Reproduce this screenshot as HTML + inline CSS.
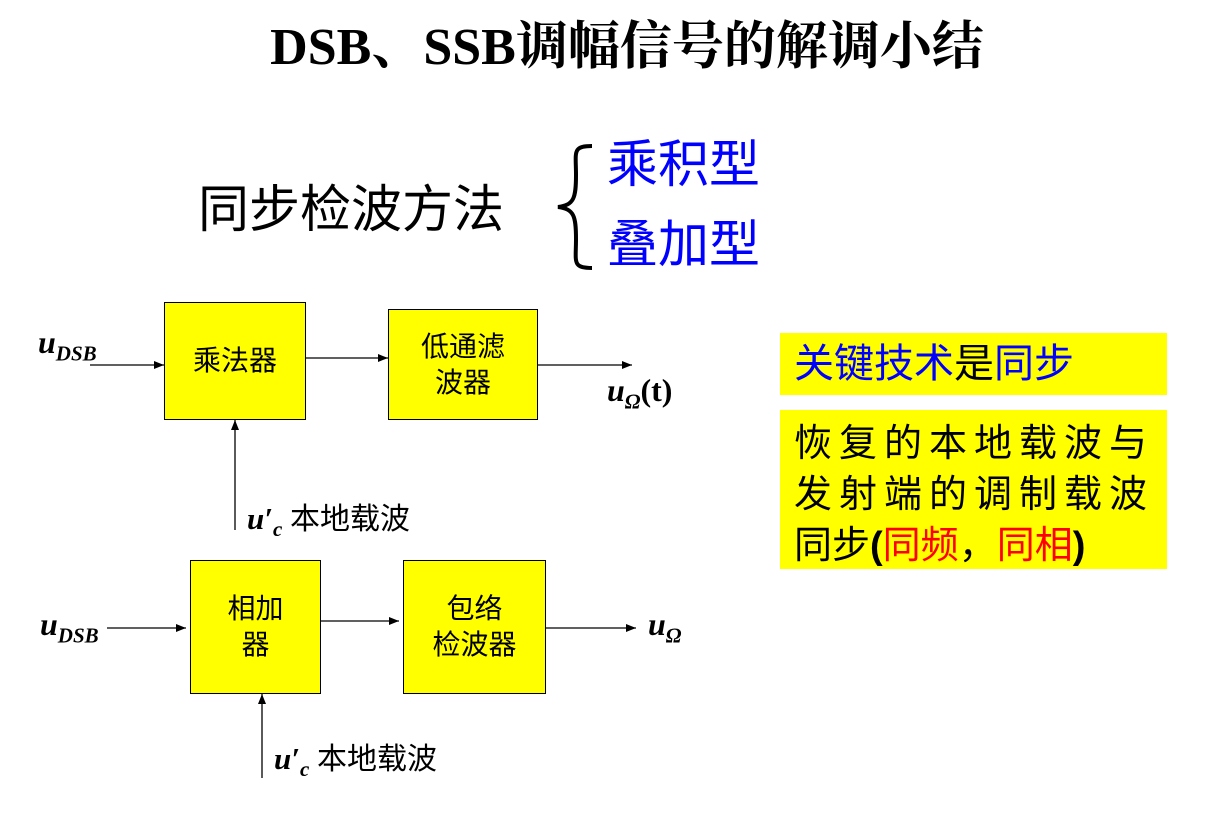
<!DOCTYPE html>
<html><head><meta charset="utf-8"><style>
body{margin:0;width:1224px;height:828px;background:#fff;position:relative;overflow:hidden;font-family:"Liberation Serif","Noto Serif CJK SC","Noto Sans CJK SC",serif;}
.t{position:absolute;white-space:nowrap;}
.box{position:absolute;background:#ff0;border:1px solid #000;box-sizing:border-box;display:flex;align-items:center;justify-content:center;text-align:center;font-family:"Liberation Sans","Noto Sans CJK SC",sans-serif;font-size:28px;line-height:36px;}
.panel{position:absolute;background:#ff0;font-family:"Liberation Sans","Noto Sans CJK SC",sans-serif;}
i{font-weight:bold;}
</style></head><body>
<div class="t" style="left:0;width:1254px;text-align:center;top:4px;font-size:52px;font-weight:bold;">DSB、SSB调幅信号的解调小结</div>
<div class="t" style="left:198px;top:168px;font-size:51px;font-family:'Liberation Sans','Noto Sans CJK SC',sans-serif;">同步检波方法</div>
<svg style="position:absolute;left:0;top:0" width="1224" height="828">
<defs><marker id="a" markerWidth="10" markerHeight="8" refX="10" refY="4" orient="auto" markerUnits="userSpaceOnUse"><path d="M0,0L10,4L0,8z" fill="#000"/></marker></defs>
<path d="M592,146 C572,146 576,152 576,175 C576,198 574,205 558,207 C574,209 576,216 576,239 C576,262 572,268 592,268" fill="none" stroke="#000" stroke-width="4"/>
<g stroke="#000" stroke-width="1.3" fill="none">
<line x1="90" y1="365" x2="164" y2="365" marker-end="url(#a)"/>
<line x1="305" y1="358" x2="388" y2="358" marker-end="url(#a)"/>
<line x1="537" y1="365" x2="632" y2="365" marker-end="url(#a)"/>
<line x1="235" y1="530" x2="235" y2="420" marker-end="url(#a)"/>
<line x1="107" y1="628" x2="186" y2="628" marker-end="url(#a)"/>
<line x1="320" y1="621" x2="399" y2="621" marker-end="url(#a)"/>
<line x1="545" y1="628" x2="636" y2="628" marker-end="url(#a)"/>
<line x1="262" y1="778" x2="262" y2="694" marker-end="url(#a)"/>
</g></svg>
<div class="t" style="left:607px;top:123px;font-size:51px;color:#00f;font-family:'Liberation Sans','Noto Sans CJK SC',sans-serif;">乘积型</div>
<div class="t" style="left:607px;top:203px;font-size:51px;color:#00f;font-family:'Liberation Sans','Noto Sans CJK SC',sans-serif;">叠加型</div>
<div class="box" style="left:164px;top:302px;width:142px;height:118px;">乘法器</div>
<div class="box" style="left:388px;top:309px;width:150px;height:111px;">低通滤<br>波器</div>
<div class="box" style="left:190px;top:560px;width:131px;height:134px;">相加<br>器</div>
<div class="box" style="left:403px;top:560px;width:143px;height:134px;">包络<br>检波器</div>
<div class="t" style="left:38px;top:324px;font-size:32px;"><i>u</i><sub style="font-size:21px;font-style:italic;font-weight:bold;">DSB</sub></div>
<div class="t" style="left:40px;top:606px;font-size:32px;"><i>u</i><sub style="font-size:21px;font-style:italic;font-weight:bold;">DSB</sub></div>
<div class="t" style="left:607px;top:372px;font-size:32px;"><i>u</i><sub style="font-size:21px;font-style:italic;font-weight:bold;">Ω</sub><b>(t)</b></div>
<div class="t" style="left:648px;top:606px;font-size:32px;"><i>u</i><sub style="font-size:21px;font-style:italic;font-weight:bold;">Ω</sub></div>
<div class="t" style="left:247px;top:494px;font-size:31px;"><i>u′</i><sub style="font-size:21px;font-style:italic;font-weight:bold;">c</sub> <span style="font-family:'Liberation Sans','Noto Sans CJK SC',sans-serif;font-size:30px;">本地载波</span></div>
<div class="t" style="left:274px;top:734px;font-size:31px;"><i>u′</i><sub style="font-size:21px;font-style:italic;font-weight:bold;">c</sub> <span style="font-family:'Liberation Sans','Noto Sans CJK SC',sans-serif;font-size:30px;">本地载波</span></div>
<div class="panel" style="left:780px;top:333px;width:387px;height:62px;font-size:40px;line-height:62px;padding-left:14px;box-sizing:border-box;"><span style="color:#00f">关键技术</span>是<span style="color:#00f">同步</span></div>
<div class="panel" style="left:780px;top:410px;width:387px;height:159px;font-size:38px;line-height:51px;padding:9px 0 0 14px;box-sizing:border-box;letter-spacing:7px;">恢复的本地载波与<br>发射端的调制载波<br><span style="letter-spacing:0">同步<b>(</b><span style="color:#f00">同频</span>，<span style="color:#f00">同相</span><b>)</b></span></div>
</body></html>
